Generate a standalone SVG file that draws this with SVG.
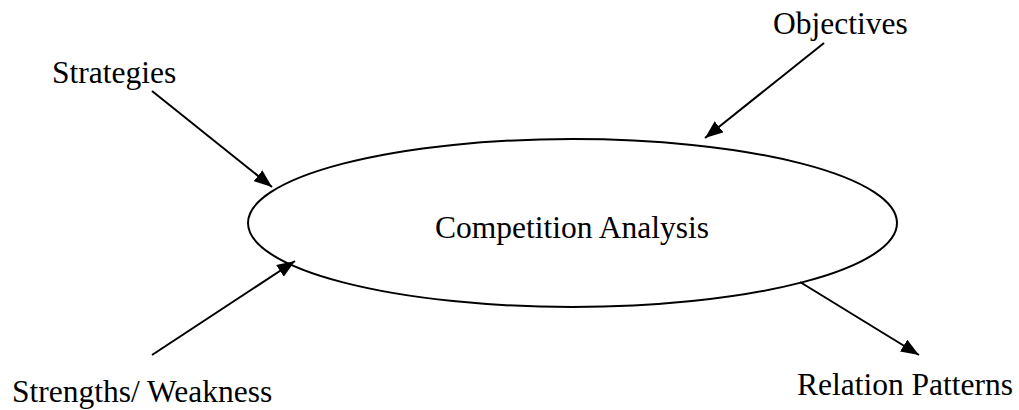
<svg xmlns="http://www.w3.org/2000/svg" width="1019" height="410" viewBox="0 0 1019 410">
  <style>
    .label { font-family: "Liberation Serif", "Times New Roman", serif; font-size: 31.5px; fill: #000; }
    .edge { stroke: #000; stroke-width: 2; fill: none; marker-end: url(#arrow); }
    .hub { fill: #fff; stroke: #000; stroke-width: 2; }
  </style>
  <defs>
    <marker id="arrow" markerUnits="userSpaceOnUse" markerWidth="18" markerHeight="14" refX="18" refY="7" orient="auto">
      <path d="M0,0 L18,7 L0,14 z" fill="#000"/>
    </marker>
  </defs>

  <rect width="1019" height="410" fill="#fff"/>

  <g id="competition-analysis">
    <ellipse class="hub" cx="572.5" cy="223" rx="324.5" ry="84"/>
    <text class="label" x="572" y="238" text-anchor="middle">Competition Analysis</text>
  </g>

  <g id="strategies">
    <text class="label" x="52" y="83">Strategies</text>
  </g>

  <g id="objectives">
    <text class="label" x="773" y="34">Objectives</text>
  </g>

  <g id="strengths-weakness">
    <text class="label" x="12" y="402">Strengths/ Weakness</text>
  </g>

  <g id="relation-patterns">
    <text class="label" x="797" y="395">Relation Patterns</text>
  </g>

  <g id="connectors">
    <line class="edge" x1="152" y1="91" x2="272" y2="187"/>
    <line class="edge" x1="824" y1="43" x2="705" y2="138"/>
    <line class="edge" x1="152" y1="355" x2="295" y2="261"/>
    <line class="edge" x1="800" y1="282" x2="919" y2="355"/>
  </g>
</svg>
